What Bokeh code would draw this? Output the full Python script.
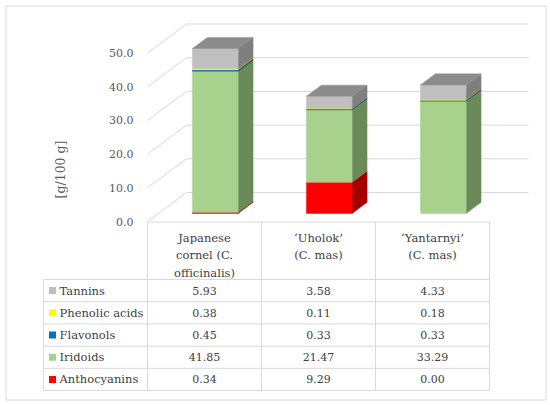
from bokeh.plotting import figure
from bokeh.models import Range1d
from bokeh.core.properties import value
from bokeh.embed import file_html
from bokeh.resources import INLINE

# ---------------- data ----------------
categories = ["Japanese cornel (C. officinalis)", "\u2018Uholok\u2019 (C. mas)", "\u2018Yantarnyi\u2019 (C. mas)"]
category_lines = [["Japanese", "cornel (C.", "officinalis)"],
                  ["\u2018Uholok\u2019", "(C. mas)"],
                  ["\u2018Yantarnyi\u2019", "(C. mas)"]]
series_names = ["Anthocyanins", "Iridoids", "Flavonols", "Phenolic acids", "Tannins"]  # stack order
anthocyanins = [0.34, 9.29, 0.00]
iridoids = [41.85, 21.47, 33.29]
flavonols = [0.45, 0.33, 0.33]
phenolic_acids = [0.38, 0.11, 0.18]
tannins = [5.93, 3.58, 4.33]
y_ticks = [0, 10, 20, 30, 40, 50]
y_title = "[g/100 g]"

series_values = [anthocyanins, iridoids, flavonols, phenolic_acids, tannins]
front_colors = ["#FF0000", "#A9D18E", "#0070C0", "#FFFF00", "#BFBFBF"]
side_colors = ["#A30000", "#6B8A5A", "#004A80", "#A6A600", "#7F7F7F"]
top_colors = ["#C00000", "#7FA06A", "#005A96", "#BFBF00", "#8C8C8C"]

# ---------------- layout constants (page px) ----------------
W, H = 550, 405
OX, OY = 147.0, 221.0          # front-left floor corner
PX_CAT, PX_VAL = 114.0, 3.37   # px per category / per value unit
def X(px): return (px - OX) / PX_CAT
def Y(py): return (OY - py) / PX_VAL
DX, DY = 39.0 / PX_CAT, 29.0 / PX_VAL   # depth of the 3D box
F0, F1 = 0.276, 0.66                     # bar front/back depth fraction
HW = 0.2                                  # half bar width (category units)
GRID = "#D9D9D9"
TXT = "#404040"
FONT = value("DejaVu Serif")

p = figure(width=W, height=H, output_backend="svg", toolbar_location=None,
           x_range=Range1d(X(0), X(W)), y_range=Range1d(Y(H), Y(0)),
           x_axis_location=None, y_axis_location=None, min_border=0)
p.grid.visible = False
p.outline_line_color = None
p.background_fill_color = "white"
p.border_fill_color = "white"

# outer chart border
p.quad(left=[X(5.5)], right=[X(545.5)], top=[Y(5.5)], bottom=[Y(399.5)],
       fill_color=None, line_color=GRID, line_width=1)

# back wall gridlines and left-wall diagonals
ncat = len(categories)
p.segment(x0=[DX] * len(y_ticks), y0=[v + DY for v in y_ticks],
          x1=[ncat + DX] * len(y_ticks), y1=[v + DY for v in y_ticks],
          line_color=GRID, line_width=1)
p.segment(x0=[0] * len(y_ticks), y0=y_ticks,
          x1=[DX] * len(y_ticks), y1=[v + DY for v in y_ticks],
          line_color=GRID, line_width=1)

# y tick labels
p.text(x=[X(133)] * len(y_ticks), y=y_ticks, text=[f"{v:.1f}" for v in y_ticks],
       text_font=FONT, text_font_size="11px", text_color="#595959",
       text_align="right", text_baseline="middle")
p.text(x=[X(60)], y=[Y(169)], text=[y_title], angle=1.5708,
       text_font=FONT, text_font_size="12.5px", text_color="#595959",
       text_align="center", text_baseline="middle")

# bars
fx0, fy0 = F0 * DX, F0 * DY
fx1, fy1 = F1 * DX, F1 * DY
front_xs, front_ys, front_c = [], [], []
side_xs, side_ys, side_c = [], [], []
top_xs, top_ys, top_c = [], [], []
for i in range(ncat):
    c = i + 0.5
    xl, xr = c - HW, c + HW
    bottom = 0.0
    last = None
    for k, vals in enumerate(series_values):
        v = vals[i]
        if v <= 0:
            continue
        b, t = bottom, bottom + v
        front_xs.append([xl + fx0, xr + fx0, xr + fx0, xl + fx0])
        front_ys.append([b + fy0, b + fy0, t + fy0, t + fy0])
        front_c.append(front_colors[k])
        side_xs.append([xr + fx0, xr + fx1, xr + fx1, xr + fx0])
        side_ys.append([b + fy0, b + fy1, t + fy1, t + fy0])
        side_c.append(side_colors[k])
        bottom = t
        last = k
    top_xs.append([xl + fx0, xr + fx0, xr + fx1, xl + fx1])
    top_ys.append([bottom + fy0, bottom + fy0, bottom + fy1, bottom + fy1])
    top_c.append(top_colors[last])

p.patches(xs=side_xs, ys=side_ys, fill_color=side_c, line_color=side_c, line_width=0.5)
p.patches(xs=front_xs, ys=front_ys, fill_color=front_c, line_color=front_c, line_width=0.5)
p.patches(xs=top_xs, ys=top_ys, fill_color=top_c, line_color=top_c, line_width=0.5)

# ---------------- data table ----------------
row_edges = [279.0 + 22.2 * r for r in range(6)]   # page y of row boundaries
left_x = X(43)
p.segment(x0=[0], y0=[Y(221.5)], x1=[ncat], y1=[Y(221.5)], line_color=GRID, line_width=1)
p.segment(x0=list(range(ncat + 1)), y0=[Y(221.5)] * (ncat + 1),
          x1=list(range(ncat + 1)), y1=[Y(row_edges[-1])] * (ncat + 1),
          line_color=GRID, line_width=1)
p.segment(x0=[left_x] * 6, y0=[Y(e) for e in row_edges],
          x1=[ncat] * 6, y1=[Y(e) for e in row_edges], line_color=GRID, line_width=1)
p.segment(x0=[left_x], y0=[Y(row_edges[0])], x1=[left_x], y1=[Y(row_edges[-1])],
          line_color=GRID, line_width=1)

# header texts
hx, hy, ht = [], [], []
for i, lines in enumerate(category_lines):
    for j, ln in enumerate(lines):
        hx.append(i + 0.5)
        hy.append(Y(237 + 17.5 * j))
        ht.append(ln)
p.text(x=hx, y=hy, text=ht, text_font=FONT, text_font_size="11.5px", text_color=TXT,
       text_align="center", text_baseline="middle")

# table rows (top to bottom: reverse stack order)
row_order = list(range(len(series_names)))[::-1]
lx, ly, lt, sq_c = [], [], [], []
vx, vy, vt = [], [], []
for r, k in enumerate(row_order):
    yc = Y((row_edges[r] + row_edges[r + 1]) / 2)
    lx.append(X(59)); ly.append(yc); lt.append(series_names[k]); sq_c.append(front_colors[k])
    for i in range(ncat):
        vx.append(i + 0.5); vy.append(yc); vt.append(f"{series_values[k][i]:.2f}")
p.scatter(x=[X(52)] * len(lx), y=ly, marker="square", size=7, fill_color=sq_c, line_color=None)
p.text(x=lx, y=ly, text=lt, text_font=FONT, text_font_size="11.5px", text_color=TXT,
       text_align="left", text_baseline="middle")
p.text(x=vx, y=vy, text=vt, text_font=FONT, text_font_size="11px", text_color=TXT,
       text_align="center", text_baseline="middle")

open("out.html", "w").write(file_html(p, INLINE))
